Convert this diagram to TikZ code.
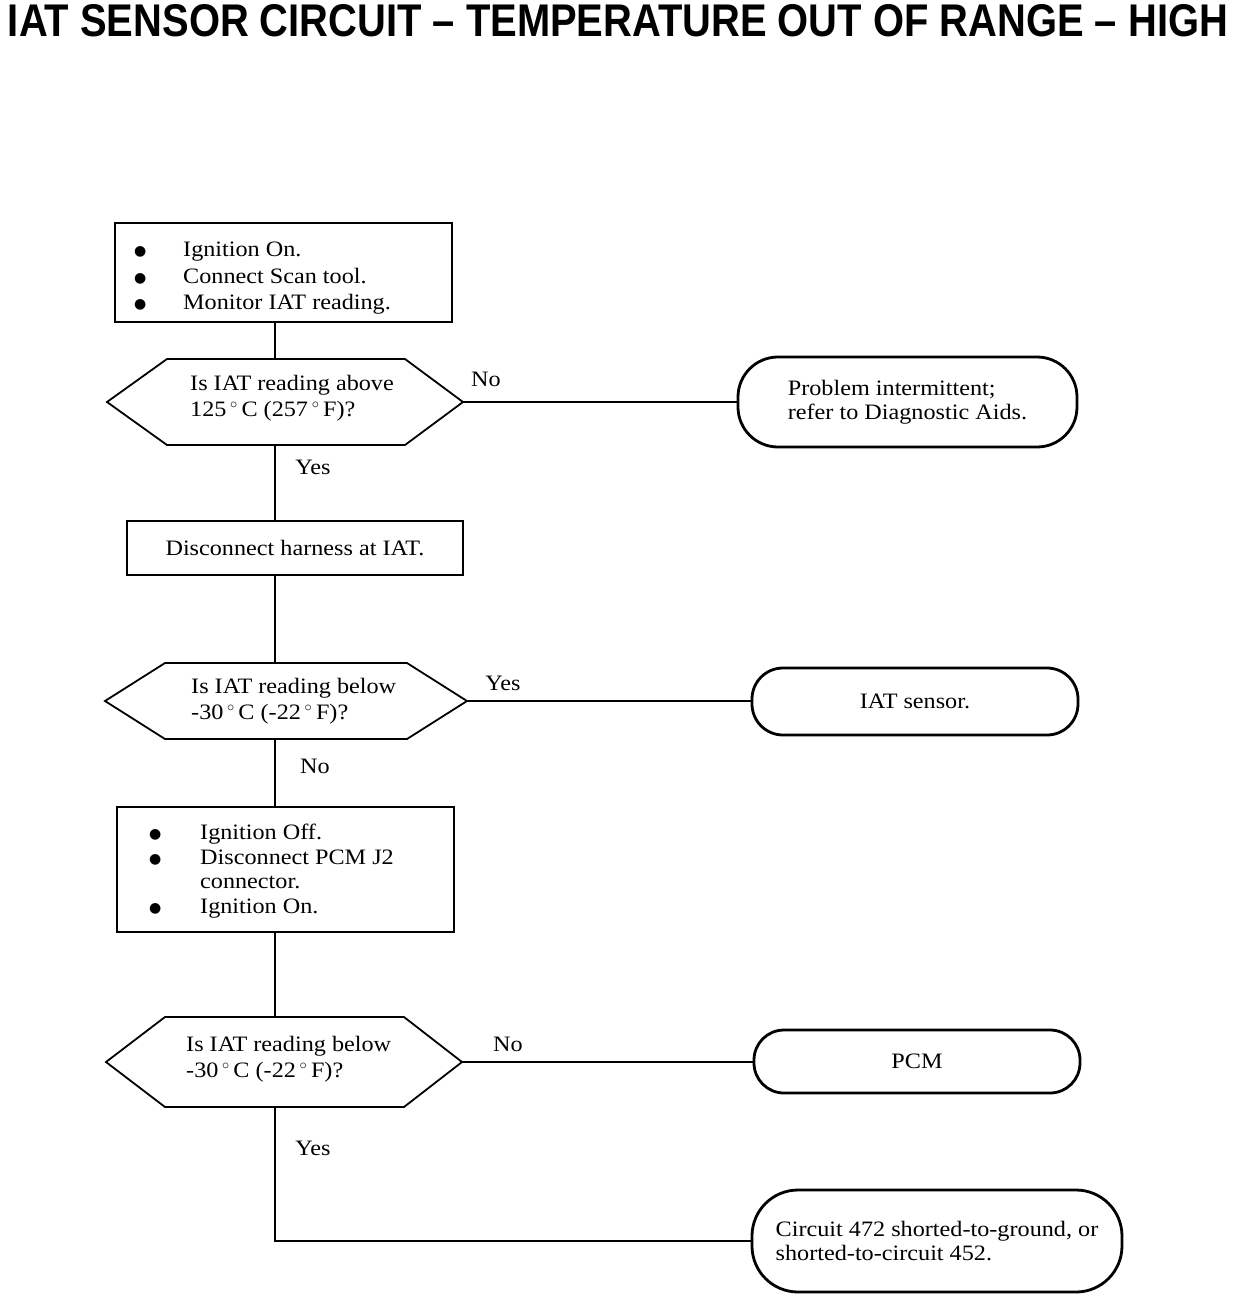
\documentclass[tikz,border=0pt]{standalone}
\usepackage{graphicx}
\usepackage{fontspec}
\setmainfont{Liberation Serif}[FakeStretch=1.1]
\setsansfont{Liberation Sans}
\newfontfamily\symfont{DejaVu Sans}
\newcommand{\bul}{{\symfont\fontsize{14}{14}\selectfont\raisebox{1pt}{●}}}
\begin{document}
\begin{tikzpicture}[x=1pt,y=-1pt,
  every node/.style={font=\fontsize{22}{26}\selectfont, inner sep=0pt},
  stepbox/.style={draw, line width=1.8pt, rectangle},
  hexline/.style={draw, line width=1.8pt, line join=miter},
  term/.style={draw, line width=2.8pt, rectangle, align=left, font=\fontsize{22}{24}\selectfont},
  conn/.style={draw, line width=1.4pt},
  lbl/.style={anchor=mid west, yshift=-4pt},
  ans/.style={anchor=center}]
\useasboundingbox (0,0) rectangle (1248,1302);

% title
\node (title) at (618,21) {\resizebox{1220pt}{32pt}{\sffamily\bfseries IAT SENSOR CIRCUIT \textendash\ TEMPERATURE OUT OF RANGE \textendash\ HIGH}};

% box 1
\node[stepbox, minimum width=337pt, minimum height=99pt] (b1) at (283.5,272.5) {};
\node[lbl] (b1l1) at (134,250) {\makebox[49pt][l]{\bul}Ignition On.};
\node[lbl] (b1l2) at (134,277) {\makebox[49pt][l]{\bul}Connect Scan tool.};
\node[lbl] (b1l3) at (134,303) {\makebox[49pt][l]{\bul}Monitor IAT reading.};

% diamond 1
\coordinate (d1w) at (107,402);
\coordinate (d1e) at (463,402);
\coordinate (d1n) at (275,359);
\coordinate (d1s) at (275,445);
\draw[hexline] (d1w) -- (167,359) -- (405,359) -- (d1e) -- (405,445) -- (167,445) -- cycle;
\node[lbl] (d1t1) at (190,384) {Is IAT reading above};
\node[lbl] (d1t2) at (190,410) {125\,$^\circ$\,C (257\,$^\circ$\,F)?};

% terminal 1
\node[term, minimum width=339pt, minimum height=90pt, rounded corners=40pt] (t1) at (907.5,402) {Problem intermittent;\\refer to Diagnostic Aids.};

% box 2
\node[stepbox, minimum width=336pt, minimum height=54pt] (b2) at (295,548) {Disconnect harness at IAT.};

% diamond 2
\coordinate (d2w) at (105,701);
\coordinate (d2e) at (467,701);
\coordinate (d2n) at (275,663);
\coordinate (d2s) at (275,739);
\draw[hexline] (d2w) -- (165,663) -- (407,663) -- (d2e) -- (407,739) -- (165,739) -- cycle;
\node[lbl] (d2t1) at (191,687) {Is IAT reading below};
\node[lbl] (d2t2) at (191,713) {-30\,$^\circ$\,C (-22\,$^\circ$\,F)?};

% terminal 2
\node[term, minimum width=326pt, minimum height=67pt, rounded corners=31pt] (t2) at (915,701.5) {IAT sensor.};

% box 3
\node[stepbox, minimum width=337pt, minimum height=125pt] (b3) at (285.5,869.5) {};
\node[lbl] (b3l1) at (149,833) {\makebox[51pt][l]{\bul}Ignition Off.};
\node[lbl] (b3l2) at (149,858) {\makebox[51pt][l]{\bul}Disconnect PCM J2};
\node[lbl] (b3l3) at (200,882) {connector.};
\node[lbl] (b3l4) at (149,907) {\makebox[51pt][l]{\bul}Ignition On.};

% diamond 3
\coordinate (d3w) at (106,1062);
\coordinate (d3e) at (462,1062);
\coordinate (d3n) at (275,1017);
\coordinate (d3s) at (275,1107);
\draw[hexline] (d3w) -- (165,1017) -- (404,1017) -- (d3e) -- (404,1107) -- (165,1107) -- cycle;
\node[lbl] (d3t1) at (186,1045) {Is IAT reading below};
\node[lbl] (d3t2) at (186,1071) {-30\,$^\circ$\,C (-22\,$^\circ$\,F)?};

% terminal 3
\node[term, minimum width=326pt, minimum height=63pt, rounded corners=30pt] (t3) at (917,1061.5) {PCM};

% terminal 4
\node[term, minimum width=370pt, minimum height=102pt, rounded corners=46pt] (t4) at (937,1241) {Circuit 472 shorted-to-ground, or\\shorted-to-circuit 452.};

% connectors
\draw[conn] (b1.south -| d1n) -- (d1n);
\draw[conn] (d1s) -- (b2.north -| d1s);
\draw[conn] (b2.south -| d1s) -- (d2n);
\draw[conn] (d2s) -- (b3.north -| d2s);
\draw[conn] (b3.south -| d2s) -- (d3n);
\draw[conn] (d3s) |- (t4.west);
\draw[conn] (d1e) -- (d1e -| t1.west);
\draw[conn] (d2e) -- (d2e -| t2.west);
\draw[conn] (d3e) -- (d3e -| t3.west);

% answer labels
\node[ans] (a1) at (486,379) {No};
\node[ans] (a2) at (313,467) {Yes};
\node[ans] (a3) at (503,683) {Yes};
\node[ans] (a4) at (315,766) {No};
\node[ans] (a5) at (508,1044) {No};
\node[ans] (a6) at (313,1148) {Yes};
\end{tikzpicture}
\end{document}
